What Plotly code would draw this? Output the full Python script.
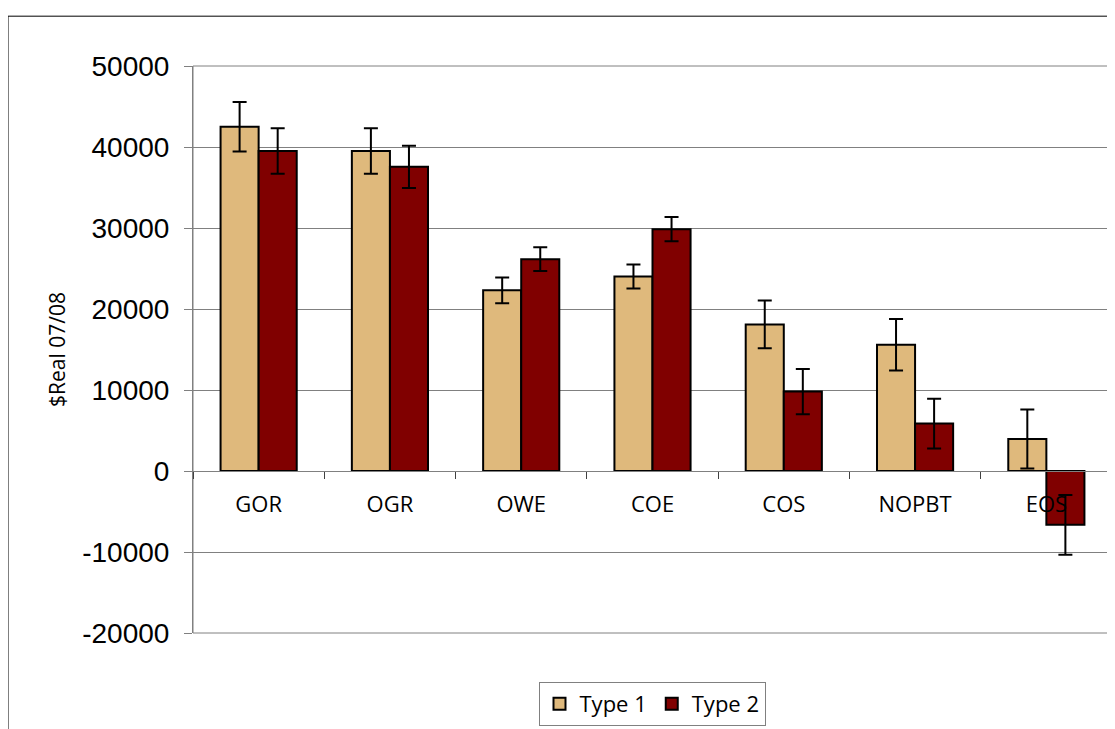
import plotly.graph_objs as go

categories = ["GOR", "OGR", "OWE", "COE", "COS", "NOPBT", "EOS"]
type1 = [42500, 39500, 22300, 24000, 18100, 15600, 3950]
type1_err = [3050, 2800, 1580, 1480, 2950, 3180, 3650]
type2 = [39500, 37550, 26150, 29850, 9800, 5850, -6650]
type2_err = [2800, 2600, 1470, 1500, 2800, 3080, 3700]
y_ticks = [-20000, -10000, 0, 10000, 20000, 30000, 40000, 50000]

FONT = "Open Sans"
OFF = 8  # page body margin
W, H = 1115 - OFF, 729 - OFF
L, T = 193 - OFF, 66 - OFF
R, B = W - (1112 - OFF), H - (635 - OFF)
pw, ph = W - L - R, H - T - B


def px_x(x):
    return (x - OFF - L) / pw


def px_y(y):
    return 1 - (y - OFF - T) / ph


fig = go.Figure()
fig.add_trace(go.Bar(
    x=categories, y=type1, name="Type 1",
    marker=dict(color="#DFB97C", line=dict(color="black", width=2)),
    error_y=dict(type="data", array=type1_err, color="black", thickness=2, width=7),
))
fig.add_trace(go.Bar(
    x=categories, y=type2, name="Type 2",
    marker=dict(color="#800000", line=dict(color="black", width=2)),
    error_y=dict(type="data", array=type2_err, color="black", thickness=2, width=7),
))

zero_pos = (0 - y_ticks[0]) / (y_ticks[-1] - y_ticks[0])

fig.update_layout(
    width=W, height=H,
    margin=dict(l=L, r=R, t=T, b=B),
    paper_bgcolor="white", plot_bgcolor="white",
    barmode="group", bargap=0.42, bargroupgap=0,
    font=dict(family=FONT, color="black"),
    showlegend=True,
    legend=dict(
        orientation="h", x=px_x(652), xanchor="center", y=px_y(684), yanchor="top",
        bordercolor="#808080", borderwidth=1, font=dict(size=22, family=FONT),
        itemwidth=30, traceorder="normal",
    ),
    xaxis=dict(
        anchor="free", position=zero_pos,
        showline=True, linecolor="#808080", linewidth=1,
        ticks="outside", tickson="boundaries", ticklen=7, tickcolor="#404040",
        showgrid=False, tickfont=dict(size=22, family=FONT),
        ticklabelstandoff=14,
    ),
    yaxis=dict(
        range=[y_ticks[0], y_ticks[-1]], tickvals=y_ticks,
        ticktext=[str(v) for v in y_ticks],
        showline=True, linecolor="#808080", linewidth=1,
        ticks="outside", ticklen=8, tickcolor="#808080",
        showgrid=True, gridcolor="#808080", gridwidth=1,
        zeroline=False, tickfont=dict(size=28, family="Liberation Sans"),
        ticklabelstandoff=9,
    ),
    shapes=[
        dict(type="rect", xref="paper", yref="paper", x0=0, y0=0, x1=1, y1=1,
             line=dict(color="#808080", width=1), layer="below"),
        dict(type="rect", xref="paper", yref="paper",
             x0=px_x(8), y0=px_y(760), x1=px_x(1130), y1=px_y(16),
             line=dict(color="black", width=1), layer="below"),
    ],
    annotations=[
        dict(text="$Real 07/08", xref="paper", yref="paper",
             x=px_x(57), y=px_y(351), xanchor="center", yanchor="middle",
             textangle=-90, showarrow=False, font=dict(size=21, family=FONT)),
    ],
)

fig.write_html("out.html")
